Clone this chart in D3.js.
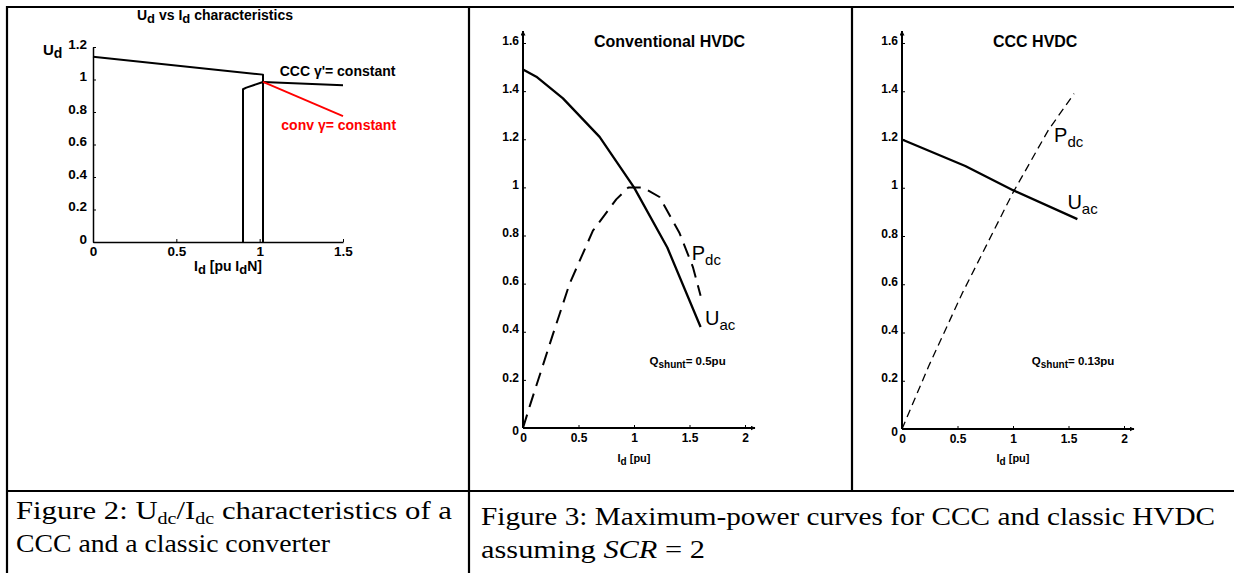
<!DOCTYPE html>
<html>
<head>
<meta charset="utf-8">
<script src="https://cdn.jsdelivr.net/npm/d3@7"></script>
<style>
  body { margin: 0; background: #fff; }
  svg { display: block; }
  .tick text { font-family: "Liberation Sans", Arial, sans-serif; font-weight: bold; }
</style>
</head>
<body>
<script>
// ---------------- data ----------------
// figure 2 (Ud vs Id)
const f2XTicks = [0, 0.5, 1, 1.5];
const f2YTicks = [0, 0.2, 0.4, 0.6, 0.8, 1, 1.2];
const f2UpperI = [0, 1.02, 1.02];
const f2UpperU = [1.14, 1.03, 0];
const f2CccI = [0.9, 0.9, 0.92, 1.02, 1.5];
const f2CccU = [0, 0.94, 0.95, 0.985, 0.965];
const f2ConvI = [1.02, 1.5];
const f2ConvU = [0.985, 0.775];

// figure 3 (max power curves)
const f3XTicks = [0, 0.5, 1, 1.5, 2];
const f3YTicks = [0, 0.2, 0.4, 0.6, 0.8, 1, 1.2, 1.4, 1.6];
const convUacI = [0, 0.12, 0.36, 0.69, 1.0, 1.3, 1.6];
const convUacU = [1.49, 1.46, 1.37, 1.21, 1.0, 0.75, 0.42];
const convPdcI = [0, 0.06, 0.27, 0.42, 0.63, 0.84, 0.95, 1.08, 1.23, 1.41, 1.53, 1.6];
const convPdcP = [0, 0.09, 0.39, 0.60, 0.82, 0.95, 1.0, 1.0, 0.96, 0.81, 0.67, 0.55];
const cccUacI = [0, 0.57, 1.0, 1.58];
const cccUacU = [1.2, 1.09, 0.99, 0.87];
const cccPdcI = [0, 0.24, 0.54, 1.0, 1.32, 1.55];
const cccPdcP = [0, 0.26, 0.56, 0.98, 1.24, 1.39];

const W = 1234, H = 573;
const sans = '"Liberation Sans", Arial, sans-serif';
const serif = '"Liberation Serif", "Times New Roman", serif';

var svg = d3.select("body").append("svg")
    .attr("width", W)
    .attr("height", H);

// arrow marker
svg.append("defs").append("marker")
    .attr("id", "arr")
    .attr("viewBox", "0 0 10 10")
    .attr("refX", 9).attr("refY", 5)
    .attr("markerWidth", 5).attr("markerHeight", 5)
    .attr("markerUnits", "userSpaceOnUse")
    .attr("orient", "auto")
    .append("path")
    .attr("d", "M0,0L10,5L0,10z")
    .attr("fill", "black");

// ---------------- table frame ----------------
function hline(x1, x2, y) {
    svg.append("line").attr("x1", x1).attr("x2", x2).attr("y1", y).attr("y2", y)
        .attr("stroke", "black").attr("stroke-width", 2.2);
}
function vline(x, y1, y2) {
    svg.append("line").attr("x1", x).attr("x2", x).attr("y1", y1).attr("y2", y2)
        .attr("stroke", "black").attr("stroke-width", 2.2);
}
hline(6, W, 7);
hline(6, W, 491);
vline(7, 6, H);
vline(469, 6, H);
vline(852, 6, 491);

// helper for text with subscripts
function subText(g, x, y, parts, opt) {
    let t = g.append("text")
        .attr("x", x).attr("y", y)
        .attr("font-family", opt.family || sans)
        .attr("font-size", opt.size)
        .attr("font-weight", opt.weight || "normal")
        .attr("fill", opt.fill || "black")
        .attr("text-anchor", opt.anchor || "start");
    if (opt.len) t.attr("textLength", opt.len).attr("lengthAdjust", "spacingAndGlyphs");
    let low = false;
    parts.forEach(p => {
        let s = t.append("tspan");
        if (p.sub) {
            s.attr("font-size", opt.subSize).text(p.sub);
            if (!low) s.attr("dy", opt.subDy);
            low = true;
        } else {
            s.attr("font-size", opt.size).text(p.t);
            if (low) s.attr("dy", -opt.subDy);
            low = false;
        }
    });
    return t;
}

function linePath(g, x, y, xs, ys, stroke, width, dash) {
    let pts = xs.map((d, i) => [d, ys[i]]);
    let p = g.append("path")
        .datum(pts)
        .attr("d", d3.line().x(d => x(d[0])).y(d => y(d[1])))
        .attr("fill", "none")
        .attr("stroke", stroke)
        .attr("stroke-width", width)
        .attr("stroke-linejoin", "round");
    if (dash) p.attr("stroke-dasharray", dash);
    return p;
}

// ---------------- figure 2 ----------------
{
    let g = svg.append("g");
    let x = d3.scaleLinear().domain([0, 1.5]).range([93, 343]);
    let y = d3.scaleLinear().domain([0, 1.2]).range([242, 47]);

    let xa = g.append("g").attr("transform", "translate(0,242)")
        .call(d3.axisBottom(x).tickValues(f2XTicks).tickFormat(d3.format("")).tickSizeInner(-3).tickSizeOuter(0).tickPadding(4));
    let ya = g.append("g").attr("transform", "translate(93,0)")
        .call(d3.axisLeft(y).tickValues(f2YTicks).tickFormat(d3.format("")).tickSizeInner(-3).tickSizeOuter(0).tickPadding(6));
    [xa, ya].forEach(a => {
        a.select(".domain").attr("stroke-width", 1.5);
        a.selectAll(".tick line").attr("stroke-width", 1);
        a.selectAll(".tick text").attr("font-size", 13.5).attr("fill", "black");
    });
    ya.selectAll(".tick text").attr("dy", "0.1em");

    linePath(g, x, y, f2UpperI, f2UpperU, "black", 2);
    linePath(g, x, y, f2CccI, f2CccU, "black", 2);
    linePath(g, x, y, f2ConvI, f2ConvU, "#ff0000", 1.8);

    subText(g, 215, 20, [{ t: "U" }, { sub: "d" }, { t: " vs I" }, { sub: "d" }, { t: " characteristics" }],
        { size: 14, weight: "bold", anchor: "middle", subSize: 13, subDy: 3 });
    subText(g, 43, 55, [{ t: "U" }, { sub: "d" }], { size: 15, weight: "bold", subSize: 14, subDy: 3 });
    subText(g, 228, 271, [{ t: "I" }, { sub: "d" }, { t: " [pu I" }, { sub: "d" }, { t: "N]" }],
        { size: 14, weight: "bold", anchor: "middle", subSize: 13, subDy: 3 });

    g.append("text").attr("x", x(1.12)).attr("y", y(1.02))
        .attr("font-family", sans).attr("font-size", 14).attr("font-weight", "bold")
        .text("CCC \u03b3'= constant");
    g.append("text").attr("x", x(1.13)).attr("y", y(0.69))
        .attr("font-family", sans).attr("font-size", 14).attr("font-weight", "bold")
        .attr("fill", "#ff0000")
        .text("conv \u03b3= constant");
}

// ---------------- figure 3 panels ----------------
function panel(x0, y0, title, titleX, uI, uU, pI, pP, dash, dashW, pLab, uLab, qLab, qText) {
    let g = svg.append("g");
    let x = d3.scaleLinear().domain([0, 2]).range([x0, x0 + 222]);
    let y = d3.scaleLinear().domain([0, 1.6]).range([y0, 43]);

    let xa = g.append("g").attr("transform", "translate(0," + y0 + ")")
        .call(d3.axisBottom(x).tickValues(f3XTicks).tickFormat(d3.format("")).tickSizeInner(-3).tickSizeOuter(0).tickPadding(5));
    let ya = g.append("g").attr("transform", "translate(" + x0 + ",0)")
        .call(d3.axisLeft(y).tickValues(f3YTicks).tickFormat(d3.format("")).tickSizeInner(-3).tickSizeOuter(0).tickPadding(4));
    [xa, ya].forEach(a => {
        a.select(".domain").remove();
        a.selectAll(".tick line").attr("stroke-width", 1);
        a.selectAll(".tick text").attr("font-size", 12).attr("fill", "black");
    });
    ya.selectAll(".tick text").attr("dy", "0.1em");
    ya.selectAll(".tick").filter(d => d === 0).select("text").attr("dy", "0.55em");

    // axes with arrows
    g.append("line").attr("x1", x0).attr("y1", y0).attr("x2", x0).attr("y2", 31)
        .attr("stroke", "black").attr("stroke-width", 2).attr("marker-end", "url(#arr)");
    g.append("line").attr("x1", x0).attr("y1", y0).attr("x2", x0 + 232).attr("y2", y0)
        .attr("stroke", "black").attr("stroke-width", 2).attr("marker-end", "url(#arr)");

    linePath(g, x, y, uI, uU, "black", 2.3);
    linePath(g, x, y, pI, pP, "black", dashW, dash);

    g.append("text").attr("x", x(titleX)).attr("y", 47)
        .attr("font-family", sans).attr("font-size", 16).attr("font-weight", "bold")
        .attr("text-anchor", "middle").text(title);
    subText(g, x(pLab[0]), y(pLab[1]), [{ t: "P" }, { sub: "dc" }], { size: 20, subSize: 15, subDy: 5 });
    subText(g, x(uLab[0]), y(uLab[1]), [{ t: "U" }, { sub: "ac" }], { size: 20, subSize: 15, subDy: 5 });
    subText(g, x(qLab[0]), y(qLab[1]), [{ t: "Q" }, { sub: "shunt" }, { t: qText }],
        { size: 11.5, weight: "bold", subSize: 10, subDy: 3 });
    subText(g, x(1), 462, [{ t: "I" }, { sub: "d" }, { t: " [pu]" }],
        { size: 11, weight: "bold", anchor: "middle", subSize: 10, subDy: 3 });
}

panel(523, 428, "Conventional HVDC", 1.32, convUacI, convUacU, convPdcI, convPdcP, "14,8", 2,
    [1.52, 0.7], [1.64, 0.43], [1.14, 0.26], "= 0.5pu");
panel(902, 429, "CCC HVDC", 1.2, cccUacI, cccUacU, cccPdcI, cccPdcP, "8,5", 1.3,
    [1.37, 1.19], [1.49, 0.91], [1.17, 0.265], "= 0.13pu");

// ---------------- captions ----------------
subText(svg, 16, 519, [{ t: "Figure 2: U" }, { sub: "dc" }, { t: "/I" }, { sub: "dc" }, { t: " characteristics of a" }],
    { family: serif, size: 26, subSize: 17, subDy: 5, len: 436 });
svg.append("text").attr("x", 16).attr("y", 552)
    .attr("font-family", serif).attr("font-size", 26)
    .attr("textLength", 314).attr("lengthAdjust", "spacingAndGlyphs")
    .text("CCC and a classic converter");
svg.append("text").attr("x", 481).attr("y", 525)
    .attr("font-family", serif).attr("font-size", 26)
    .attr("textLength", 734).attr("lengthAdjust", "spacingAndGlyphs")
    .text("Figure 3: Maximum-power curves for CCC and classic HVDC");
let cap = svg.append("text").attr("x", 481).attr("y", 558)
    .attr("font-family", serif).attr("font-size", 26)
    .attr("textLength", 224).attr("lengthAdjust", "spacingAndGlyphs");
cap.append("tspan").attr("font-size", 26).text("assuming  ");
cap.append("tspan").attr("font-size", 26).attr("font-style", "italic").text("SCR");
cap.append("tspan").attr("font-size", 26).text(" = 2");
</script>
</body>
</html>
